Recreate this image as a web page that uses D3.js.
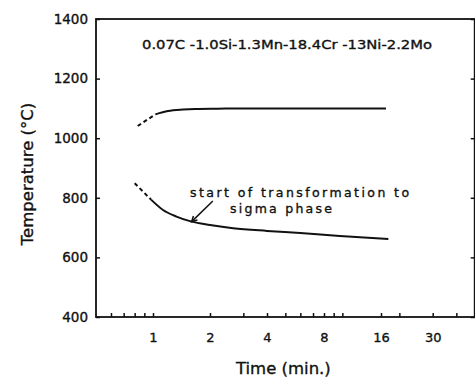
<!DOCTYPE html>
<html>
<head>
<meta charset="utf-8">
<script src="https://cdn.jsdelivr.net/npm/d3@7"></script>
<style>
  html, body { margin: 0; padding: 0; background: #fff; }
  svg { display: block; }
  text { font-family: "DejaVu Sans", sans-serif; fill: #111; stroke: #111; stroke-width: 0.35px; }
</style>
</head>
<body>
<svg id="chart" width="475" height="378"></svg>
<script>
// Time-temperature curves for the 18Cr-13Ni-2Mo steel
const alloyLabel = "0.07C -1.0Si-1.3Mn-18.4Cr -13Ni-2.2Mo";

// Upper curve (dashed lead-in, then solid)
const upperDashedTime = [0.83, 1.03];
const upperDashedTemp = [1041, 1080];
const upperTime = [1.03, 1.2, 1.44, 1.67, 2.2, 4, 8, 17];
const upperTemp = [1080, 1091, 1096, 1098, 1099, 1100, 1100, 1100];

// Start of transformation to sigma phase (dashed lead-in, then solid)
const lowerDashedTime = [0.80, 0.98];
const lowerDashedTemp = [849, 793];
const lowerTime = [0.98, 1.13, 1.33, 1.6, 2.0, 2.65, 4.0, 6.0, 9.7, 17.5];
const lowerTemp = [793, 759, 737, 720, 709, 698, 689, 682, 672, 662];

// Axes
const xTickValues = [0.6, 0.7, 0.8, 0.9, 1, 2, 3, 4, 5, 6, 7, 8, 9, 10, 16, 20, 30, 40];
const xTickLabels = [1, 2, 4, 8, 16, 30];
const yTickValues = [400, 600, 800, 1000, 1200, 1400];

const svg = d3.select("#chart");
const plotLeft = 96, plotRight = 474.7, plotTop = 19, plotBottom = 317;

const x = d3.scaleLog().domain([0.5, 50]).range([plotLeft, plotRight]);
const y = d3.scaleLinear().domain([400, 1400]).range([plotBottom, plotTop]);

const ink = "#111";

// Frame
svg.append("rect")
  .attr("x", plotLeft).attr("y", plotTop)
  .attr("width", plotRight - plotLeft).attr("height", plotBottom - plotTop)
  .attr("fill", "none").attr("stroke", ink).attr("stroke-width", 1.8);

// Bottom axis: inward ticks, labels only on selected values
const gx = svg.append("g").attr("transform", `translate(0,${plotBottom})`)
  .call(d3.axisBottom(x).tickValues(xTickValues).tickSizeInner(-4).tickSizeOuter(0)
    .tickPadding(16)
    .tickFormat(d => xTickLabels.includes(d) ? String(d) : ""));
gx.select(".domain").remove();
gx.selectAll(".tick line").attr("stroke", ink).attr("stroke-width", 1.5);
gx.selectAll(".tick text").attr("font-size", 13).attr("font-family", "DejaVu Sans").attr("fill", ink);

// Left axis
const gy = svg.append("g").attr("transform", `translate(${plotLeft},0)`)
  .call(d3.axisLeft(y).tickValues(yTickValues).tickSizeInner(-4).tickSizeOuter(0)
    .tickPadding(8).tickFormat(d3.format("d")));
gy.select(".domain").remove();
gy.selectAll(".tick line").attr("stroke", ink).attr("stroke-width", 1.5);
gy.selectAll(".tick text").attr("font-size", 13.5).attr("font-family", "DejaVu Sans").attr("fill", ink);

// Right border ticks
const gr = svg.append("g").attr("transform", `translate(${plotRight},0)`)
  .call(d3.axisRight(y).tickValues(yTickValues).tickSizeInner(-4).tickSizeOuter(0)
    .tickFormat(""));
gr.select(".domain").remove();
gr.selectAll(".tick line").attr("stroke", ink).attr("stroke-width", 1.5);

// Axis titles
svg.append("text")
  .attr("x", (plotLeft + plotRight) / 2 - 2).attr("y", 374)
  .attr("text-anchor", "middle").attr("font-size", 16.5)
  .text("Time (min.)");

svg.append("text")
  .attr("transform", `translate(33,174) rotate(-90)`)
  .attr("text-anchor", "middle").attr("font-size", 16.5)
  .text("Temperature (°C)");

// Curves
const line = d3.line().x(d => x(d[0])).y(d => y(d[1])).curve(d3.curveMonotoneX);
const zip = (a, b) => a.map((v, i) => [v, b[i]]);

function drawCurve(times, temps, dashed) {
  svg.append("path")
    .datum(zip(times, temps))
    .attr("d", line)
    .attr("fill", "none")
    .attr("stroke", ink)
    .attr("stroke-width", 2)
    .attr("stroke-dasharray", dashed ? "4,3" : null);
}
drawCurve(upperDashedTime, upperDashedTemp, true);
drawCurve(upperTime, upperTemp, false);
drawCurve(lowerDashedTime, lowerDashedTemp, true);
drawCurve(lowerTime, lowerTemp, false);

// Alloy composition label
svg.append("text")
  .attr("x", x(0.875)).attr("y", y(1313)).attr("dy", "0.35em")
  .attr("font-size", 12.5)
  .attr("textLength", 290).attr("lengthAdjust", "spacingAndGlyphs")
  .text(alloyLabel);

// Annotation for the lower curve
svg.append("text")
  .attr("x", x(1.57)).attr("y", y(816)).attr("dy", "0.35em")
  .attr("font-size", 12.5)
  .attr("textLength", 219).attr("lengthAdjust", "spacing")
  .text("start of transformation to");
svg.append("text")
  .attr("x", x(2.55)).attr("y", y(765)).attr("dy", "0.35em")
  .attr("font-size", 12.5)
  .attr("textLength", 102).attr("lengthAdjust", "spacing")
  .text("sigma phase");

// Arrow pointing at the curve
const tip = [x(1.6), y(720)];
const tail = [x(2.07), y(789)];
svg.append("line")
  .attr("x1", tail[0]).attr("y1", tail[1]).attr("x2", tip[0]).attr("y2", tip[1])
  .attr("stroke", ink).attr("stroke-width", 1.5);
const ang = Math.atan2(tip[1] - tail[1], tip[0] - tail[0]);
const headLen = 6, spread = 0.5;
const p1 = [tip[0] - headLen * Math.cos(ang - spread), tip[1] - headLen * Math.sin(ang - spread)];
const p2 = [tip[0] - headLen * Math.cos(ang + spread), tip[1] - headLen * Math.sin(ang + spread)];
svg.append("path")
  .attr("d", `M${p1[0]},${p1[1]}L${tip[0]},${tip[1]}L${p2[0]},${p2[1]}`)
  .attr("fill", "none").attr("stroke", ink).attr("stroke-width", 1.5);
</script>
</body>
</html>
